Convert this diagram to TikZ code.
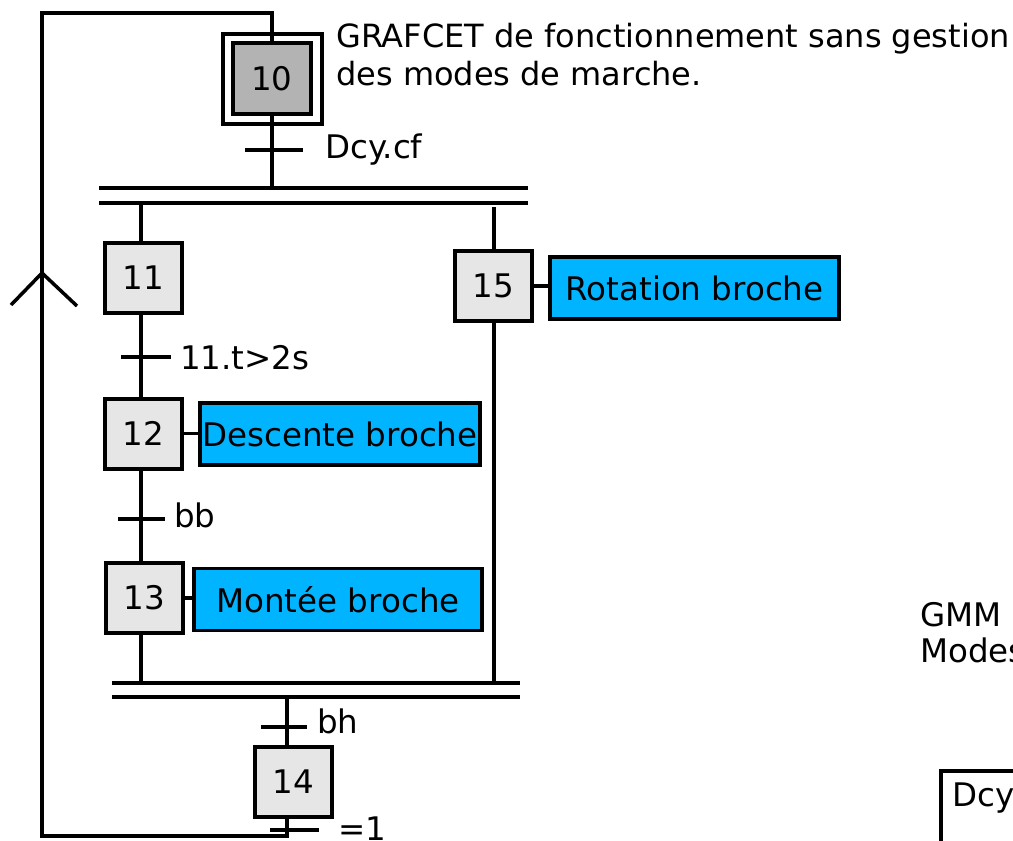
\documentclass[tikz,border=0pt]{standalone}
\usepackage{fontspec}
\setmainfont{DejaVu Sans}
\usetikzlibrary{calc}
\definecolor{actcyan}{RGB}{0,180,255}
\definecolor{stepgray}{RGB}{230,230,230}
\definecolor{initgray}{RGB}{179,179,179}
\begin{document}
\begin{tikzpicture}[x=1pt,y=-1pt,
  font=\fontsize{32.5}{38}\selectfont,
  stepbox/.style={draw, line width=4pt, fill=stepgray, minimum width=77pt, minimum height=70pt, inner sep=0pt},
  actbox/.style={draw, line width=3.5pt, fill=actcyan, minimum height=62pt, inner sep=0pt},
  link/.style={line width=4pt},
  dbar/.style={line width=4.5pt},
  lbl/.style={anchor=base west, inner sep=0pt}
]
\useasboundingbox (0,0) rectangle (1013,841);

% steps
\node[draw, line width=4pt, minimum width=99pt, minimum height=90pt] (s10o) at (272.5,79) {};
\node[stepbox, fill=initgray, minimum width=78pt, minimum height=71pt] (s10) at (272,78.5) {10};
\node[stepbox] (s11) at (143.5,278) {11};
\node[stepbox] (s12) at (143.5,433.5) {12};
\node[stepbox] (s13) at (144.5,598) {13};
\node[stepbox] (s14) at (293.5,782) {14};
\node[stepbox] (s15) at (493.5,286) {15};

% actions
\node[actbox, minimum width=280pt] (a12) at (340,434) {Descente broche};
\node[actbox, minimum width=288pt] (a13) at (338,599.5) {Montée broche};
\node[actbox, minimum width=289pt] (a15) at (694.5,288) {Rotation broche};

% transition coordinates
\coordinate (t10) at (272,150);
\coordinate (t11) at (141,357);
\coordinate (t12) at (141,519);
\coordinate (t14) at (287,727);
\coordinate (t14b) at (287,830);

% divergence / convergence bars
\coordinate (dA1l) at (99,188);  \coordinate (dA1r) at (528,188);
\coordinate (dA2l) at (99,203);  \coordinate (dA2r) at (528,203);
\coordinate (dB1l) at (112,683); \coordinate (dB1r) at (520,683);
\coordinate (dB2l) at (112,697); \coordinate (dB2r) at (520,697);
\draw[dbar] (dA1l) -- (dA1r);
\draw[dbar] (dA2l) -- (dA2r);
\draw[dbar] (dB1l) -- (dB1r);
\draw[dbar] (dB2l) -- (dB2r);

% return loop
\coordinate (retbl) at (42,836);
\coordinate (rettl) at (42,13);
\draw[link, line width=3.5pt] (t14b |- s14.south) -- (t14b |- retbl) -- (retbl) -- (rettl) -- (s10.north |- rettl) -- (s10.north);
\coordinate (arrtip) at (42,273);
\draw[line width=3.5pt] ($(arrtip)+(-31,32)$) -- (arrtip) -- ($(arrtip)+(35,33)$);

% vertical links
\draw[link] (s10.south) -- (s10.south |- dA1l);
\draw[link] (t11 |- dA2l) -- (t11 |- s11.north);
\draw[link] (t11 |- s11.south) -- (t11 |- s12.north);
\draw[link] (t12 |- s12.south) -- (t12 |- s13.north);
\draw[link] (t12 |- s13.south) -- (t12 |- dB1l);
\draw[link] (s15.north |- 0,207) -- (s15.north);
\draw[link] (s15.south) -- (s15.south |- dB1l);
\draw[link] (t14 |- dB2l) -- (t14 |- s14.north);

% action links
\draw[line width=3.5pt] (s12.east) -- (s12.east -| a12.west);
\draw[line width=3.5pt] (s13.east) -- (s13.east -| a13.west);
\draw[line width=3.5pt] (s15.east) -- (s15.east -| a15.west);

% transition bars
\draw[link] ($(t10)+(-27,0)$) -- ($(t10)+(31,0)$);
\draw[link] ($(t11)+(-20,0)$) -- ($(t11)+(30,0)$);
\draw[link] ($(t12)+(-23,0)$) -- ($(t12)+(24,0)$);
\draw[link] ($(t14)+(-26,0)$) -- ($(t14)+(20,0)$);
\draw[link] ($(t14b)+(-17,0)$) -- ($(t14b)+(32,0)$);

% labels
\node[lbl] (l10) at (325,158) {Dcy.cf};
\node[lbl] (l11) at (180,369) {11.t>2s};
\node[lbl] (l12) at (174,527) {bb};
\node[lbl] (l14) at (317,733) {bh};
\node[lbl] (l14b) at (338,840) {=1};

\node[anchor=north west, inner sep=0pt, align=left, font=\fontsize{32}{38}\selectfont] (title) at (336,23) {GRAFCET de fonctionnement sans gestion\\des modes de marche.};

\node[lbl] (gmm) at (920,626) {GMM};
\node[lbl] (modes) at (920,662) {Modes};
\coordinate (dcyc) at (941,771);
\draw[line width=3.5pt] (dcyc |- 0,850) -- (dcyc) -- (1030,771);
\node[lbl] (dcy) at (952,806) {Dcy};
\end{tikzpicture}
\end{document}
